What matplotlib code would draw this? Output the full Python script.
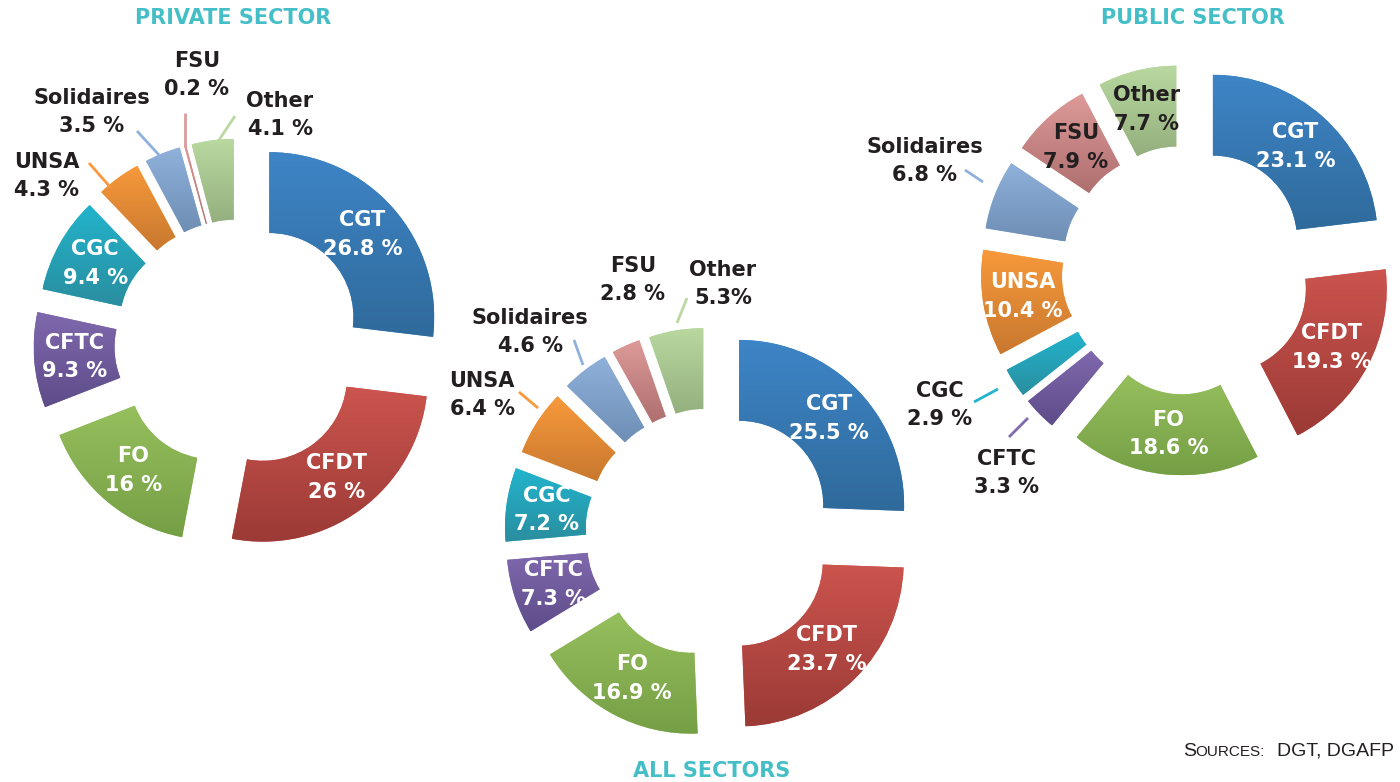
import numpy as np
import matplotlib.pyplot as plt
from matplotlib.colors import to_rgb

# union shares (%), clockwise from 12 o'clock
unions = ['CGT', 'CFDT', 'FO', 'CFTC', 'CGC', 'UNSA', 'Solidaires', 'FSU', 'Other']
private = [26.8, 26.0, 16.0, 9.3, 9.4, 4.3, 3.5, 0.2, 4.1]
all_sectors = [25.5, 23.7, 16.9, 7.3, 7.2, 6.4, 4.6, 2.8, 5.3]
public = [23.1, 19.3, 18.6, 3.3, 2.9, 10.4, 6.8, 7.9, 7.7]

private_txt = ['26.8 %', '26 %', '16 %', '9.3 %', '9.4 %', '4.3 %', '3.5 %', '0.2 %', '4.1 %']
all_txt = ['25.5 %', '23.7 %', '16.9 %', '7.3 %', '7.2 %', '6.4 %', '4.6 %', '2.8 %', '5.3%']
public_txt = ['23.1 %', '19.3 %', '18.6 %', '3.3 %', '2.9 %', '10.4 %', '6.8 %', '7.9 %', '7.7 %']

# gradient colours (top -> bottom)
col_top = ['#3e85c7', '#cc544e', '#96bf5d', '#8069ae', '#22b4cd', '#f8993b', '#8fb1db', '#dd9a99', '#b9d9a0']
col_bot = ['#2f6a9b', '#9b3a36', '#759f45', '#5e4c89', '#2a8e9f', '#c8782f', '#6e8eb4', '#ae6f6e', '#94af7e']

W, H = 1400, 782
R = 165            # outer radius in px
WIDTH = 0.49       # ring width / radius
EXPLODE = 0.245    # offset / radius
FONT = ['DejaVu Sans']
DARK = '#231f20'
FS = 15
LS = 1.55

fig = plt.figure(figsize=(14, 7.82), dpi=100)


def donut(values, cx, cy, texts, inside, dark=()):
    half = 250
    ax = fig.add_axes([(cx - half) / W, (H - cy - half) / H, 2 * half / W, 2 * half / H])
    wedges, _ = ax.pie(values, radius=1, startangle=90, counterclock=False,
                       explode=[EXPLODE] * len(values), colors=col_top,
                       wedgeprops=dict(width=WIDTH, linewidth=0))
    grad = np.linspace(0, 1, 256)[:, None, None]
    for w, c0, c1 in zip(wedges, col_top, col_bot):
        x0, y0, x1, y1 = w.get_path().get_extents().extents
        img = (1 - grad) * np.array(to_rgb(c0)) + grad * np.array(to_rgb(c1))
        im = ax.imshow(img, extent=[x0, x1, y0, y1], origin='upper', aspect='auto',
                       interpolation='bilinear', zorder=2)
        im.set_clip_path(w)
    for i, w in enumerate(wedges):
        if unions[i] not in inside:
            continue
        th = np.deg2rad((w.theta1 + w.theta2) / 2)
        rho = w.r - w.width / 2
        x = w.center[0] + rho * np.cos(th)
        y = w.center[1] + rho * np.sin(th)
        c = DARK if unions[i] in dark else 'white'
        ax.text(x, y, unions[i] + '\n' + texts[i], ha='center', va='center', color=c,
                fontsize=FS, fontweight='bold', family=FONT, linespacing=LS, zorder=5)
    L = half / R
    ax.set_xlim(-L, L)
    ax.set_ylim(-L, L)
    ax.set_aspect('equal')
    ax.axis('off')


big = ['CGT', 'CFDT', 'FO', 'CFTC', 'CGC']
donut(private, 239, 344, private_txt, big)
donut(all_sectors, 710, 533, all_txt, big)
donut(public, 1186, 270, public_txt, ['CGT', 'CFDT', 'FO', 'UNSA', 'FSU', 'Other'], dark=['FSU', 'Other'])

# overlay in pixel coordinates for titles and outside labels
ov = fig.add_axes([0, 0, 1, 1])
ov.set_xlim(0, W)
ov.set_ylim(H, 0)
ov.axis('off')
ov.patch.set_visible(False)

title_col = '#45bfc7'
for t, x, y in [('PRIVATE SECTOR', 233, 18), ('PUBLIC SECTOR', 1193, 18), ('ALL SECTORS', 712, 771)]:
    ov.text(x, y, t, ha='center', va='center', color=title_col, fontsize=15,
            fontweight='bold', family=FONT)

# outside labels: texts, union, text pos, leader line
outside = [
    (private_txt, 'UNSA', (47, 176), (89, 163, 111, 188)),
    (private_txt, 'Solidaires', (92, 112), (137, 131, 159, 155)),
    (private_txt, 'FSU', (197, 75), (185, 113, 185, 147)),
    (private_txt, 'Other', (280, 115), (235, 116, 217, 143)),
    (all_txt, 'UNSA', (482, 395), (519, 392, 538, 408)),
    (all_txt, 'Solidaires', (530, 332), (574, 340, 583, 365)),
    (all_txt, 'FSU', (633, 280), None),
    (all_txt, 'Other', (723, 284), (687, 298, 677, 323)),
    (public_txt, 'Solidaires', (925, 161), (965, 170, 983, 182)),
    (public_txt, 'CGC', (940, 405), (974, 402, 998, 389)),
    (public_txt, 'CFTC', (1006, 473), (1009, 437, 1028, 418)),
]
for txts, name, (tx, ty), line in outside:
    i = unions.index(name)
    ov.text(tx, ty, name + '\n' + txts[i], ha='center', va='center', color=DARK,
            fontsize=FS, fontweight='bold', family=FONT, linespacing=LS)
    if line:
        ov.plot([line[0], line[2]], [line[1], line[3]], color=col_top[i], lw=2,
                solid_capstyle='butt')

# sources
src = ['Liberation Sans', 'DejaVu Sans']
ov.text(1183, 756, 'S', ha='left', va='baseline', fontsize=14, color=DARK, family=src)
ov.text(1195, 756, 'OURCES:', ha='left', va='baseline', fontsize=11, color=DARK, family=src)
ov.text(1277, 756, 'DGT, DGAFP', ha='left', va='baseline', fontsize=14, color=DARK, family=src)

fig.savefig('out.png', dpi=100)
